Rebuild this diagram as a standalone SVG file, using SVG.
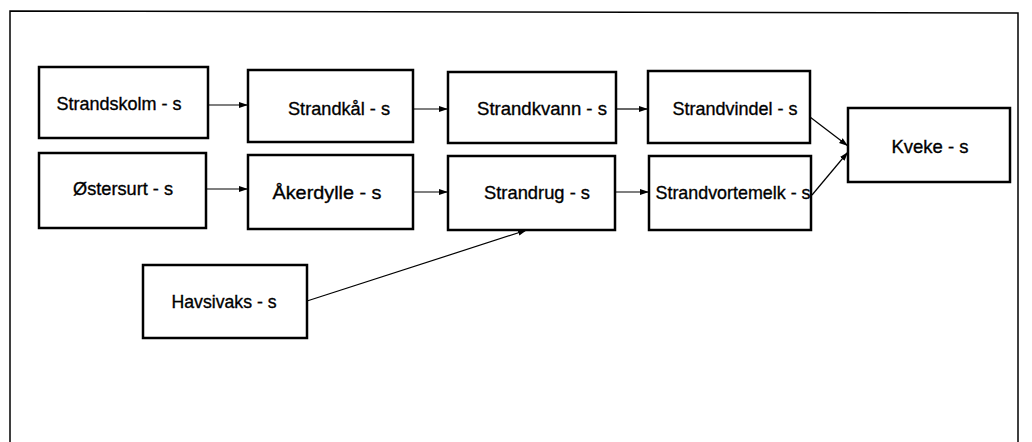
<svg xmlns="http://www.w3.org/2000/svg" width="1032" height="442" viewBox="0 0 1032 442">
<style>
.box{fill:#fff;stroke:#000;stroke-width:2.5}
.lbl{font-family:"Liberation Sans",Arial,sans-serif;font-size:19px;fill:#000;stroke:#000;stroke-width:0.35;text-anchor:middle}
.con{stroke:#000;stroke-width:1.2;fill:none;marker-end:url(#ah)}
</style>
<defs>
<marker id="ah" markerUnits="userSpaceOnUse" markerWidth="10" markerHeight="8" refX="9" refY="3.5" orient="auto">
<path d="M0,0.5 L9,3.5 L0,6.5 Z" fill="#000"/>
</marker>
</defs>
<rect width="1032" height="442" fill="#fff"/>
<path d="M10,442 L10,11 L1018,13 L1018,442" fill="none" stroke="#000" stroke-width="1.5"/>
<g id="connectors">
<line class="con" x1="208" y1="105" x2="248" y2="105"/>
<line class="con" x1="413" y1="109" x2="448" y2="109"/>
<line class="con" x1="616" y1="109" x2="648" y2="109"/>
<line class="con" x1="206" y1="189" x2="248" y2="189"/>
<line class="con" x1="413" y1="192" x2="448" y2="192"/>
<line class="con" x1="615" y1="192" x2="649" y2="192"/>
<line class="con" x1="810" y1="117" x2="848" y2="146"/>
<line class="con" x1="812" y1="195" x2="848" y2="152"/>
<line class="con" x1="307" y1="301" x2="527" y2="230"/>
</g>
<g id="n1"><rect class="box" x="39" y="67" width="169" height="71"/><text class="lbl" x="119" y="110" textLength="125" lengthAdjust="spacingAndGlyphs">Strandskolm - s</text></g>
<g id="n2"><rect class="box" x="248" y="70" width="165" height="72"/><text class="lbl" x="339" y="115" textLength="102" lengthAdjust="spacingAndGlyphs">Strandkål - s</text></g>
<g id="n3"><rect class="box" x="448" y="72" width="168" height="71"/><text class="lbl" x="542" y="115" textLength="130" lengthAdjust="spacingAndGlyphs">Strandkvann - s</text></g>
<g id="n4"><rect class="box" x="648" y="71" width="162" height="72"/><text class="lbl" x="735" y="115" textLength="125" lengthAdjust="spacingAndGlyphs">Strandvindel - s</text></g>
<g id="n5"><rect class="box" x="848" y="108" width="162" height="74"/><text class="lbl" x="930" y="153" textLength="77" lengthAdjust="spacingAndGlyphs">Kveke - s</text></g>
<g id="n6"><rect class="box" x="39" y="153" width="167" height="75"/><text class="lbl" x="123" y="195" textLength="100" lengthAdjust="spacingAndGlyphs">Østersurt - s</text></g>
<g id="n7"><rect class="box" x="248" y="155" width="165" height="74"/><text class="lbl" x="327" y="199" textLength="109" lengthAdjust="spacingAndGlyphs">Åkerdylle - s</text></g>
<g id="n8"><rect class="box" x="448" y="156" width="167" height="74"/><text class="lbl" x="537" y="199" textLength="106" lengthAdjust="spacingAndGlyphs">Strandrug - s</text></g>
<g id="n9"><rect class="box" x="649" y="156" width="162" height="74"/><text class="lbl" x="733" y="199" textLength="155" lengthAdjust="spacingAndGlyphs">Strandvortemelk - s</text></g>
<g id="n10"><rect class="box" x="143" y="265" width="164" height="73"/><text class="lbl" x="224" y="308" textLength="105" lengthAdjust="spacingAndGlyphs">Havsivaks - s</text></g>
</svg>
